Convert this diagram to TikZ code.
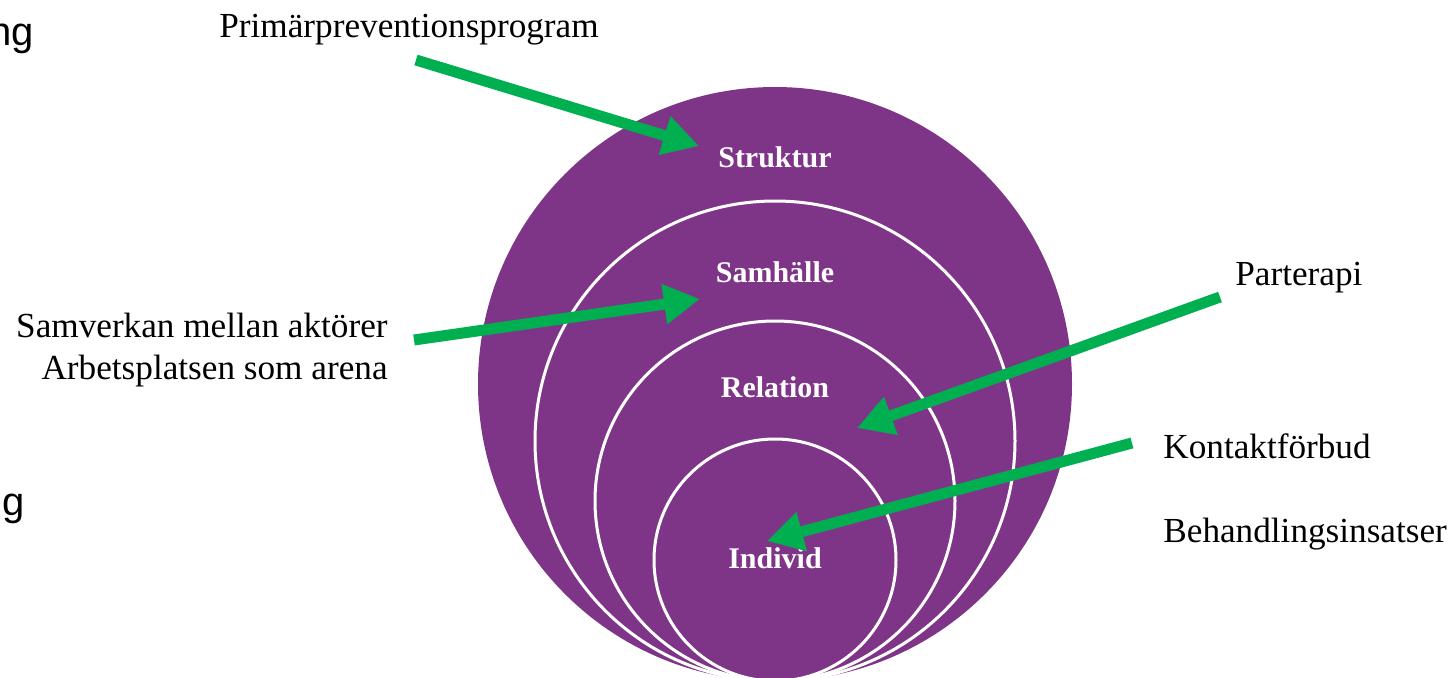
\documentclass[tikz,border=0pt]{standalone}
\usepackage{fontspec}
\setmainfont{Liberation Serif}
\newfontfamily\cutfont{Liberation Sans}
\usetikzlibrary{arrows.meta}
\definecolor{lila}{RGB}{127,53,135}
\definecolor{pilgron}{RGB}{0,176,80}

\begin{document}
\begin{tikzpicture}[x=0.5pt, y=-0.5pt, >={Triangle[length=18pt,width=19pt]},
  lbl/.style={font=\fontsize{17.6}{21}\selectfont, inner sep=0pt},
  niva/.style={text=white, font=\bfseries\fontsize{15}{18}\selectfont, inner sep=0pt},
  ring/.style={circle, draw=white, line width=1.5pt, inner sep=0pt},
  pil/.style={->, draw=pilgron, line width=5.5pt}]
\clip (0,0) rectangle (1453,677);

% circles, all touching at the bottom
\node[circle, fill=lila, minimum size=297pt, inner sep=0pt] (yttre) at (775,384) {};
\node[ring, minimum size=240pt] (ring2) at (775,441) {};
\node[ring, minimum size=180pt] (ring3) at (775,501) {};
\node[ring, minimum size=121pt] (ring4) at (775,560) {};

\node[niva] (struktur) at (775,157) {Struktur};
\node[niva] (samhalle) at (775,272) {Samhälle};
\node[niva] (relation) at (775,387) {Relation};
\node[niva] (individ) at (775,558) {Individ};

% labels round the circles
\node[lbl, anchor=base west] (prim) at (219,37) {Primärpreventionsprogram};
\node[lbl, anchor=base east] (samverkan) at (388,337) {Samverkan mellan aktörer};
\node[lbl, anchor=base east] (arena) at (388,379) {Arbetsplatsen som arena};
\node[lbl, anchor=base west] (parterapi) at (1235,285) {Parterapi};
\node[lbl, anchor=base west] (kontakt) at (1163,458) {Kontaktförbud};
\node[lbl, anchor=base west] (behandling) at (1163,542) {Behandlingsinsatser};

% text cut at the left edge
\node[font=\cutfont\fontsize{20}{24}\selectfont, inner sep=0pt, anchor=base east] (rest1) at (34,45) {ng};
\node[font=\cutfont\fontsize{20}{24}\selectfont, inner sep=0pt, anchor=base east] (rest2) at (25,515) {g};

% arrows
\coordinate (p1) at (416,60);   \coordinate (q1) at (699,146);
\coordinate (p2) at (414,340);  \coordinate (q2) at (700,299);
\coordinate (p3) at (1220,297); \coordinate (q3) at (857,428);
\coordinate (p4) at (1132,443); \coordinate (q4) at (767,541);
\draw[pil] (p1) -- (q1);
\draw[pil] (p2) -- (q2);
\draw[pil] (p3) -- (q3);
\draw[pil] (p4) -- (q4);
\end{tikzpicture}
\end{document}
